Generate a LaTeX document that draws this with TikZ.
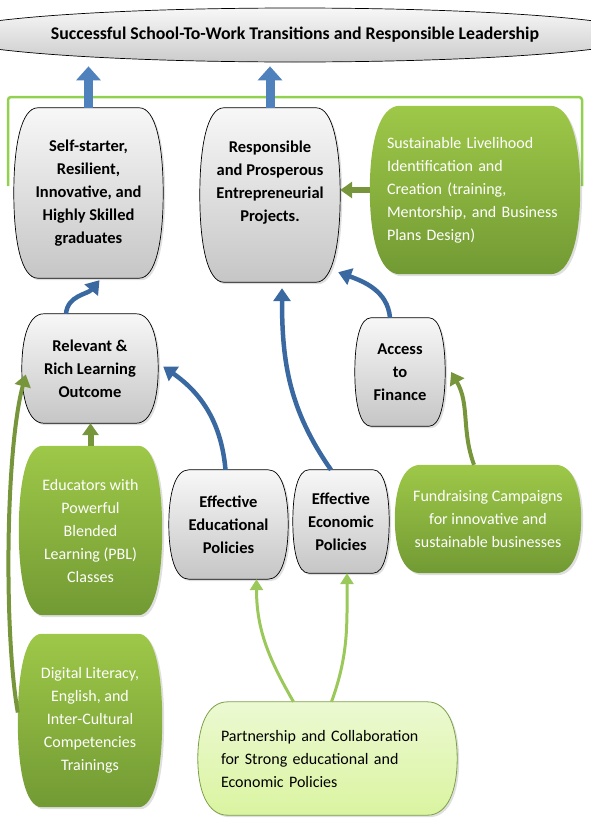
\documentclass[tikz,border=0pt]{standalone}
\usepackage{fontspec}
\setmainfont{Carlito}
\usetikzlibrary{positioning,calc,arrows.meta,backgrounds,shadows,shapes.geometric}

\definecolor{linkblue}{RGB}{58,104,160}
\definecolor{arrowblue}{RGB}{79,129,189}
\definecolor{leafgreen}{RGB}{119,150,60}
\definecolor{palegreen}{RGB}{155,200,90}
\definecolor{bracketgreen}{RGB}{146,208,80}
\definecolor{greentop}{RGB}{158,200,72}
\definecolor{greenbot}{RGB}{114,154,52}

% barrel shaped box behind a node: name, style, corner inset
\newcommand{\barrel}[3]{%
	\path[#2] let \p1=(#1.north west), \p2=(#1.south east), \p3=(#1.center),
		\n2={0.275*(\y1-\y2)} in
		(\x1+#3,\y1) -- (\x2-#3,\y1)
		.. controls (\x2-0.3*#3,\y1) and (\x2,\y3+\n2) .. (\x2,\y3)
		.. controls (\x2,\y3-\n2) and (\x2-0.3*#3,\y2) .. (\x2-#3,\y2)
		-- (\x1+#3,\y2)
		.. controls (\x1+0.3*#3,\y2) and (\x1,\y3-\n2) .. (\x1,\y3)
		.. controls (\x1,\y3+\n2) and (\x1+0.3*#3,\y1) .. cycle;}

\begin{document}
\begin{tikzpicture}[x=1pt,y=-1pt]
		\tikzset{gray text/.style={inner sep=0pt, align=center,
				font=\bfseries\fontsize{16.5}{23}\selectfont},
			green text/.style={inner sep=0pt, align=center, text=white,
				font=\fontsize{16}{23}\selectfont},
			gray fill/.style={draw=black, line width=0.7pt,
				top color=gray!6, bottom color=gray!45,
				drop shadow={opacity=0.25,shadow xshift=2pt,shadow yshift=-2pt}},
			green fill/.style={top color=greentop, bottom color=greenbot,
				drop shadow={opacity=0.25,shadow xshift=2pt,shadow yshift=-2pt}},
			pale fill/.style={draw=palegreen!80!black, line width=0.8pt,
				top color={rgb,255:red,236;green,249;blue,210},
				bottom color={rgb,255:red,218;green,244;blue,160},
				drop shadow={opacity=0.25,shadow xshift=2pt,shadow yshift=-2pt}},
			blue link/.style={draw=linkblue, line width=4.5pt,
				-{Triangle[width=17pt,length=13pt]}},
			green link/.style={draw=leafgreen, line width=4pt,
				-{Triangle[width=16pt,length=12pt]}},
			pale link/.style={draw=palegreen, line width=3pt,
				-{Triangle[width=13pt,length=11pt]}},
			block arrow/.style={draw=arrowblue, line width=9pt,
				-{Triangle[width=24pt,length=14pt]}}}
		\useasboundingbox (0,0) rectangle (590,822);
		
		% Draw the goal
		\node[ellipse, draw, line width=0.7pt, minimum width=570pt, minimum height=54pt,
			top color=gray!6, bottom color=gray!40, font=\bfseries\fontsize{17.8}{20}\selectfont]
			at (295,35) (goal) {Successful School-To-Work Transitions and Responsible Leadership};
		
		% Draw the boxes
		\node[gray text, minimum width=149pt, minimum height=170pt] at (88.5,193) (A)
			{Self-starter,\\Resilient,\\Innovative, and\\Highly Skilled\\graduates};
		\node[gray text, minimum width=140pt, minimum height=174pt] at (270,195) (B)
			{Responsible\\and Prosperous\\Entrepreneurial\\Projects.\\[4pt]};
		\node[green text, minimum width=210pt, minimum height=168pt,
			text width=176pt, align=left] at (475,190) (C)
			{Sustainable Livelihood\\Identification and\\Creation (training,\\Mentorship, and Business\\Plans Design)};
		\node[gray text, minimum width=136pt, minimum height=109pt] at (90,368.5) (D)
			{Relevant \&\\Rich Learning\\Outcome};
		\node[gray text, minimum width=90pt, minimum height=108pt] at (400,372) (E)
			{Access\\to\\Finance};
		\node[green text, minimum width=143pt, minimum height=169pt] at (90.5,530.5) (G)
			{Educators with\\Powerful\\Blended\\Learning (PBL)\\Classes};
		\node[gray text, minimum width=119pt, minimum height=109pt] at (228.5,524.5) (H)
			{Effective\\Educational\\Policies};
		\node[gray text, minimum width=96pt, minimum height=103pt] at (341,521.5) (I)
			{Effective\\Economic\\Policies};
		\node[green text, minimum width=186pt, minimum height=108pt] at (488,519) (J)
			{Fundraising Campaigns\\for innovative and\\sustainable businesses};
		\node[green text, minimum width=144pt, minimum height=173pt] at (90,720.5) (K)
			{Digital Literacy,\\English, and\\Inter-Cultural\\Competencies\\Trainings};
		\node[green text, text=black, minimum width=259pt, minimum height=113pt,
			text width=213pt, align=left] at (327.5,758.5) (L)
			{Partnership and Collaboration\\for Strong educational and\\Economic Policies};
		
		\begin{scope}[on background layer]
			\draw[bracketgreen, line width=2.5pt, rounded corners=3pt]
				(8,186) -- (8,97) -- (582,97) -- (582,186);
			\barrel{A}{gray fill}{24}
			\barrel{B}{gray fill}{24}
			\barrel{C}{green fill}{30}
			\barrel{D}{gray fill}{22}
			\barrel{E}{gray fill}{16}
			\barrel{G}{green fill}{24}
			\barrel{H}{gray fill}{20}
			\barrel{I}{gray fill}{16}
			\barrel{J}{green fill}{26}
			\barrel{K}{green fill}{24}
			\barrel{L}{pale fill}{30}
		\end{scope}
		
		% Connect the boxes with arrows
		\draw[block arrow] (A.north) -- ([yshift=-4pt]A.north |- goal.south);
		\draw[block arrow] (B.north) -- ([yshift=-4pt]B.north |- goal.south);
		\draw[blue link] ([xshift=-24pt]D.north) to[out=85,in=230] ([xshift=11pt,yshift=-2pt]A.south);
		\draw[blue link] ([xshift=-10pt]E.north) to[out=95,in=-20] ([xshift=-2pt,yshift=10pt]B.south east);
		\draw[blue link] ([xshift=-10pt]I.north) to[out=125,in=-90] ([xshift=12pt,yshift=-6pt]B.south);
		\draw[blue link] ([xshift=-3pt]H.north) to[out=95,in=-35] ([xshift=5pt,yshift=2pt]D.east);
		\draw[green link, line width=6pt] (C.west) -- (C.west -| B.east);
		\draw[green link, line width=6pt] (G.north) -- (G.north |- D.south);
		\draw[green link] ([yshift=8pt]K.west) to[out=100,in=255,looseness=0.6] ([xshift=4pt,yshift=-6pt]D.west);
		\draw[green link] ([xshift=-14pt]J.north) to[out=110,in=-60] ([xshift=6pt]E.east);
		\draw[pale link] ([xshift=-34pt]L.north) to[out=120,in=-90] ([xshift=28pt]H.south);
		\draw[pale link] ([xshift=4pt]L.north) to[out=70,in=-90] ([xshift=6pt]I.south);
		
\end{tikzpicture}
\end{document}
